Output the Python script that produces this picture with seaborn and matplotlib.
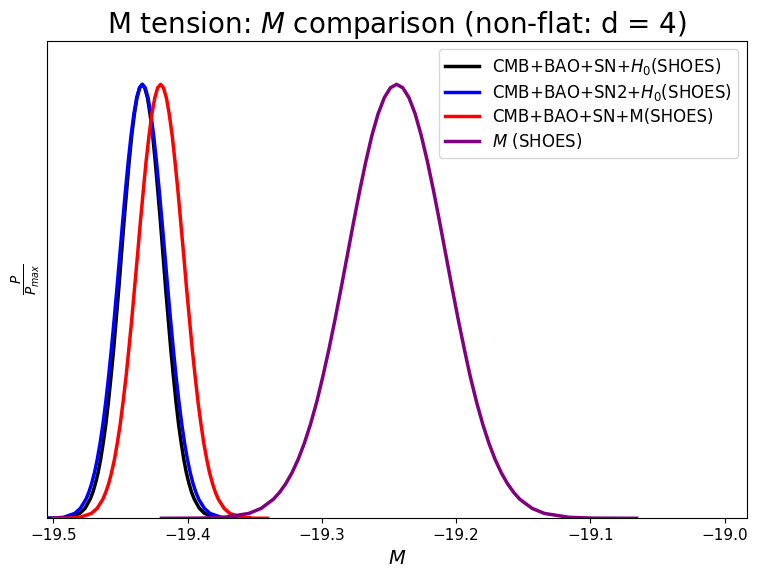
import seaborn as sns
import matplotlib.pyplot as plt

# P / P_max profile (same shape for all four posteriors)
p_over_pmax = [0.0, 0.0003, 0.0022, 0.0111, 0.0228, 0.0439, 0.0596, 0.0796, 0.1046, 0.1353,
               0.1724, 0.2163, 0.2671, 0.3247, 0.3886, 0.4578, 0.5311, 0.6065, 0.6819, 0.7548,
               0.8226, 0.8825, 0.9321, 0.9692, 0.9922, 1.0,
               0.9922, 0.9692, 0.9321, 0.8825, 0.8226, 0.7548, 0.6819, 0.6065, 0.5311, 0.4578,
               0.3886, 0.3247, 0.2671, 0.2163, 0.1724, 0.1353, 0.1046, 0.0796, 0.0596, 0.0439,
               0.0228, 0.0111, 0.0022, 0.0003, 0.0]

# M values for each curve, matching p_over_pmax point by point
m_h0 = [-19.5135, -19.4958, -19.4881, -19.4803, -19.4764, -19.4726, -19.4706, -19.4687,
        -19.4667, -19.4648, -19.4629, -19.4609, -19.4590, -19.4571, -19.4551, -19.4532,
        -19.4512, -19.4493, -19.4474, -19.4454, -19.4435, -19.4416, -19.4396, -19.4377,
        -19.4357, -19.4338,
        -19.4319, -19.4299, -19.4280, -19.4260, -19.4241, -19.4222, -19.4202, -19.4183,
        -19.4164, -19.4144, -19.4125, -19.4105, -19.4086, -19.4067, -19.4047, -19.4028,
        -19.4009, -19.3989, -19.3970, -19.3950, -19.3912, -19.3873, -19.3795, -19.3718,
        -19.3541]

m_sn2_h0 = [-19.5134, -19.5009, -19.4925, -19.4841, -19.4799, -19.4757, -19.4736, -19.4715,
            -19.4694, -19.4673, -19.4652, -19.4631, -19.4610, -19.4589, -19.4568, -19.4547,
            -19.4526, -19.4505, -19.4484, -19.4463, -19.4442, -19.4421, -19.4400, -19.4379,
            -19.4358, -19.4337,
            -19.4316, -19.4295, -19.4274, -19.4253, -19.4232, -19.4211, -19.4190, -19.4169,
            -19.4148, -19.4127, -19.4106, -19.4085, -19.4064, -19.4043, -19.4022, -19.4001,
            -19.3980, -19.3959, -19.3938, -19.3917, -19.3875, -19.3833, -19.3749, -19.3665,
            -19.3540]

m_mprior = [-19.4998, -19.4889, -19.4803, -19.4717, -19.4674, -19.4631, -19.4610, -19.4588,
            -19.4567, -19.4545, -19.4524, -19.4502, -19.4481, -19.4459, -19.4438, -19.4416,
            -19.4395, -19.4373, -19.4352, -19.4330, -19.4309, -19.4287, -19.4266, -19.4244,
            -19.4223, -19.4201,
            -19.4180, -19.4158, -19.4137, -19.4115, -19.4094, -19.4072, -19.4051, -19.4029,
            -19.4008, -19.3986, -19.3965, -19.3943, -19.3922, -19.3900, -19.3879, -19.3857,
            -19.3836, -19.3814, -19.3793, -19.3771, -19.3728, -19.3685, -19.3599, -19.3513,
            -19.3404]

m_shoes = [-19.4195, -19.3911, -19.3728, -19.3544, -19.3452, -19.3361, -19.3315, -19.3269,
           -19.3223, -19.3177, -19.3131, -19.3085, -19.3039, -19.2994, -19.2948, -19.2902,
           -19.2856, -19.2810, -19.2764, -19.2718, -19.2672, -19.2627, -19.2581, -19.2535,
           -19.2489, -19.2443,
           -19.2397, -19.2351, -19.2305, -19.2260, -19.2214, -19.2168, -19.2122, -19.2076,
           -19.2030, -19.1984, -19.1938, -19.1893, -19.1847, -19.1801, -19.1755, -19.1709,
           -19.1663, -19.1617, -19.1571, -19.1526, -19.1434, -19.1342, -19.1158, -19.0975,
           -19.0655]

labels = ['CMB+BAO+SN+$H_0$(SHOES)', 'CMB+BAO+SN2+$H_0$(SHOES)',
          'CMB+BAO+SN+M(SHOES)', '$M$ (SHOES)']
colors = ['black', 'blue', 'red', 'purple']

fig, ax = plt.subplots(figsize=(7.58, 5.82), dpi=100)
fig.subplots_adjust(left=0.0624, right=0.985, top=0.9296, bottom=0.1095)

for xs, lab, col in zip([m_h0, m_sn2_h0, m_mprior, m_shoes], labels, colors):
    sns.lineplot(x=xs, y=p_over_pmax, color=col, lw=2.5, label=lab, ax=ax, estimator=None)

ax.set_xlim(-19.5045, -18.9836)
ax.set_ylim(0, 1.1)
ax.set_yticks([])
ax.tick_params(axis='x', labelsize=11)
ax.set_xlabel('$M$', fontsize=14)
ax.set_ylabel(r'$\frac{P}{P_{max}}$', fontsize=14)
ax.set_title('M tension: $M$ comparison (non-flat: d = 4)', fontsize=20)
ax.legend(loc='upper right', fontsize=12, labelspacing=0.3)

plt.savefig('out.png')
